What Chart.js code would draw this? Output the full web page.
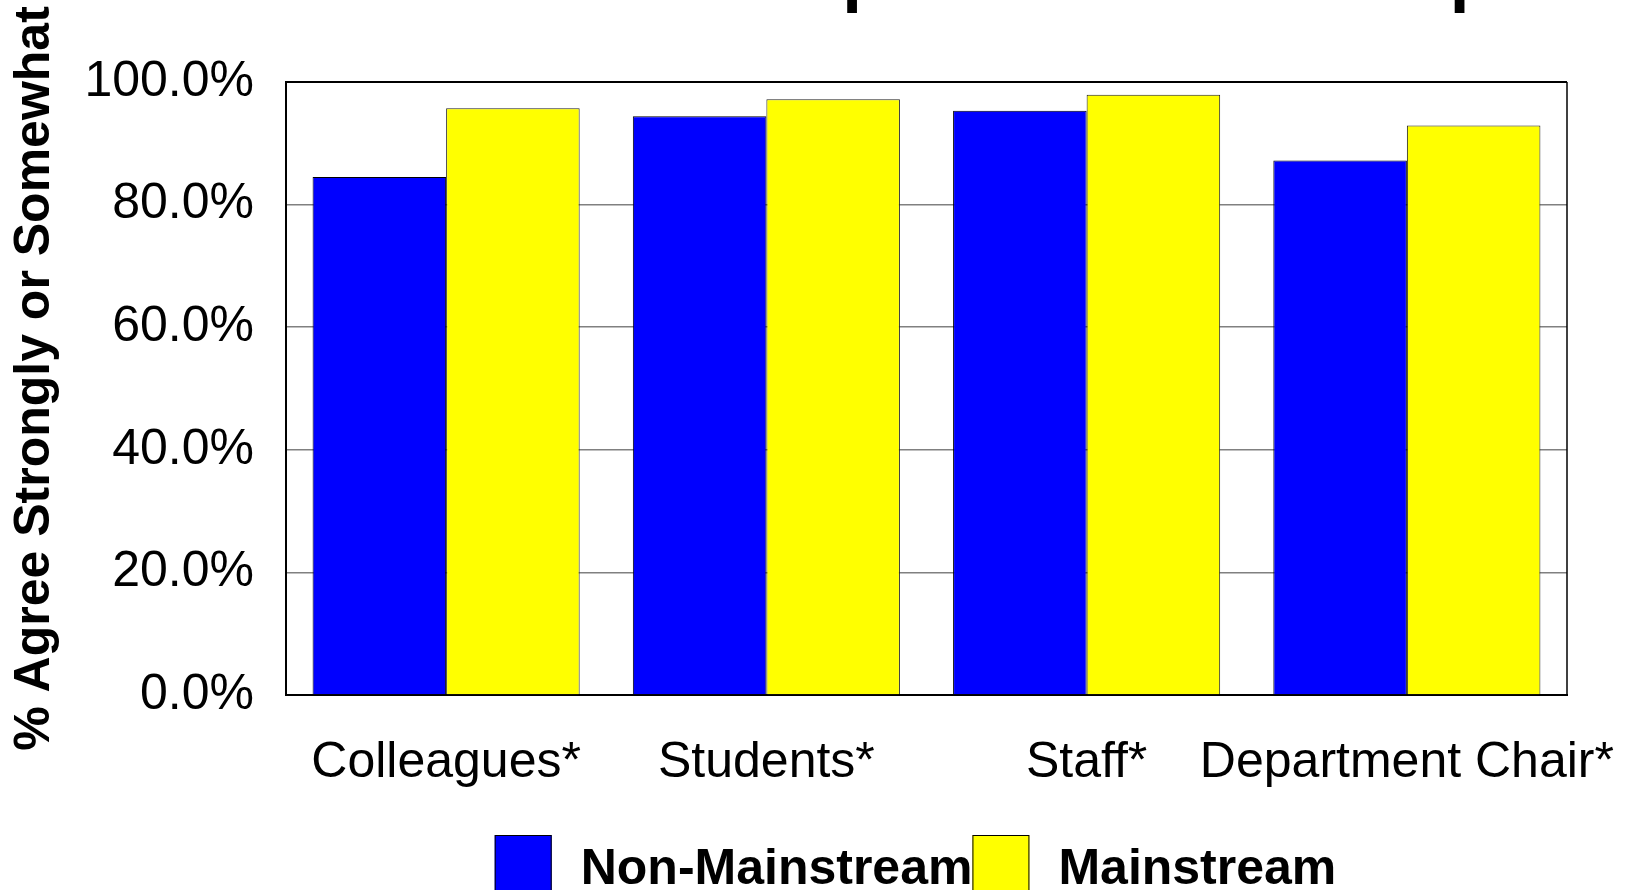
<!DOCTYPE html>
<html>
<head>
<meta charset="utf-8">
<title>Respect within the Department</title>
<script src="https://cdn.jsdelivr.net/npm/chart.js@4.4.1/dist/chart.umd.min.js"></script>
<style>
  html, body { margin: 0; padding: 0; background: #fff; overflow: hidden; }
  #wrap { position: relative; width: 1626px; height: 890px; }
  canvas { display: block; }
</style>
</head>
<body>
<div id="wrap"><canvas id="chart" width="1626" height="890"></canvas></div>
<script>
// Survey results: share of faculty who agree (strongly or somewhat)
const categories = ['Colleagues*', 'Students*', 'Staff*', 'Department Chair*'];
const nonMainstream = [84.5, 94.4, 95.3, 87.2];
const mainstream = [95.7, 97.2, 97.9, 92.9];
const seriesNames = ['Non-Mainstream', 'Mainstream'];
const yTickValues = [0, 20, 40, 60, 80, 100];
const chartTitle = 'Respect within the Department';
const yAxisTitle = '% Agree Strongly or Somewhat';

const FAMILY = '"Liberation Sans", Arial, Helvetica, sans-serif';
Chart.defaults.font.family = FAMILY;
Chart.defaults.color = '#000';

// Large title sitting just above the top edge of the canvas (only descenders show)
const clippedTitle = {
  id: 'clippedTitle',
  afterDraw(chart) {
    const ctx = chart.ctx;
    ctx.save();
    ctx.font = 'bold 71px ' + FAMILY;
    ctx.fillStyle = '#000';
    ctx.textAlign = 'left';
    ctx.textBaseline = 'alphabetic';
    ctx.fillText(chartTitle, 712, -2);
    ctx.restore();
  }
};

// Vertical axis title, rotated, reading bottom to top
const yTitlePlugin = {
  id: 'yTitle',
  afterDraw(chart) {
    const { ctx, chartArea: a } = chart;
    ctx.save();
    ctx.translate(35, (a.top + a.bottom) / 2 - 10);
    ctx.rotate(-Math.PI / 2);
    ctx.font = 'bold 50px ' + FAMILY;
    ctx.fillStyle = '#000';
    ctx.textAlign = 'center';
    ctx.textBaseline = 'middle';
    ctx.fillText(yAxisTitle, 0, 0);
    ctx.restore();
  }
};

// Top and right edges of the plot frame
const plotFrame = {
  id: 'plotFrame',
  beforeDatasetsDraw(chart) {
    const { ctx, chartArea: a } = chart;
    ctx.save();
    ctx.strokeStyle = '#000';
    ctx.lineWidth = 2;
    ctx.beginPath();
    ctx.moveTo(a.left, a.top);
    ctx.lineTo(a.right, a.top);
    ctx.stroke();
    ctx.lineWidth = 1.5;
    ctx.beginPath();
    ctx.moveTo(a.right, a.top);
    ctx.lineTo(a.right, a.bottom);
    ctx.stroke();
    ctx.restore();
  }
};

// Legend row under the category labels
const bottomLegend = {
  id: 'bottomLegend',
  afterDraw(chart) {
    const { ctx, chartArea: a } = chart;
    const boxW = 57, boxH = 64, gap = 29;
    ctx.save();
    ctx.font = 'bold 50px ' + FAMILY;
    const items = chart.data.datasets.map(d => ({
      label: d.label,
      color: d.backgroundColor,
      w: ctx.measureText(d.label).width
    }));
    const total = items.reduce((s, it) => s + boxW + gap + it.w, 0);
    let x = (a.left + a.right) / 2 - total / 2 - 11;
    const boxTop = a.bottom + 140;
    const baseline = a.bottom + 189;
    items.forEach(it => {
      ctx.fillStyle = it.color;
      ctx.fillRect(x, boxTop, boxW, boxH);
      ctx.strokeStyle = '#000';
      ctx.lineWidth = 1;
      ctx.strokeRect(x + 0.5, boxTop + 0.5, boxW - 1, boxH - 1);
      ctx.fillStyle = '#000';
      ctx.textAlign = 'left';
      ctx.textBaseline = 'alphabetic';
      ctx.fillText(it.label, x + boxW + gap, baseline);
      x += boxW + gap + it.w;
    });
    ctx.restore();
  }
};

new Chart(document.getElementById('chart'), {
  type: 'bar',
  data: {
    labels: categories,
    datasets: [
      {
        label: seriesNames[0],
        data: nonMainstream,
        backgroundColor: '#0000FF',
        borderColor: '#000000',
        borderWidth: 1,
        categoryPercentage: 0.834,
        barPercentage: 1.0
      },
      {
        label: seriesNames[1],
        data: mainstream,
        backgroundColor: '#FFFF00',
        borderColor: '#222222',
        borderWidth: 1,
        categoryPercentage: 0.834,
        barPercentage: 1.0
      }
    ]
  },
  options: {
    responsive: false,
    animation: false,
    layout: { padding: { top: 82, right: 59, bottom: 0, left: 0 } },
    plugins: {
      legend: { display: false },
      tooltip: { enabled: false },
      title: { display: false }
    },
    scales: {
      x: {
        grid: { display: false, drawTicks: false },
        border: { display: true, color: '#000', width: 2 },
        ticks: {
          font: { size: 50 },
          color: '#000',
          padding: 38,
          maxRotation: 0,
          minRotation: 0,
          autoSkip: false
        },
        afterFit(scale) {
          // long last label may run past the plot edge
          scale.height = 195;
          scale.paddingLeft = 0;
          scale.paddingRight = 0;
        }
      },
      y: {
        min: 0,
        max: 100,
        afterBuildTicks(scale) { scale.ticks = yTickValues.map(v => ({ value: v })); },
        ticks: {
          font: { size: 50 },
          color: '#000',
          padding: 32,
          callback: v => Number(v).toFixed(1) + '%'
        },
        grid: {
          drawTicks: false,
          lineWidth: 1.5,
          color: c => (c.tick && (c.tick.value === 0 || c.tick.value === 100)) ? 'rgba(0,0,0,0)' : '#808080'
        },
        border: { display: true, color: '#000', width: 2 },
        title: { display: false },
        afterFit(scale) { scale.width = 286; }
      }
    }
  },
  plugins: [plotFrame, bottomLegend, yTitlePlugin, clippedTitle]
});
</script>
</body>
</html>
